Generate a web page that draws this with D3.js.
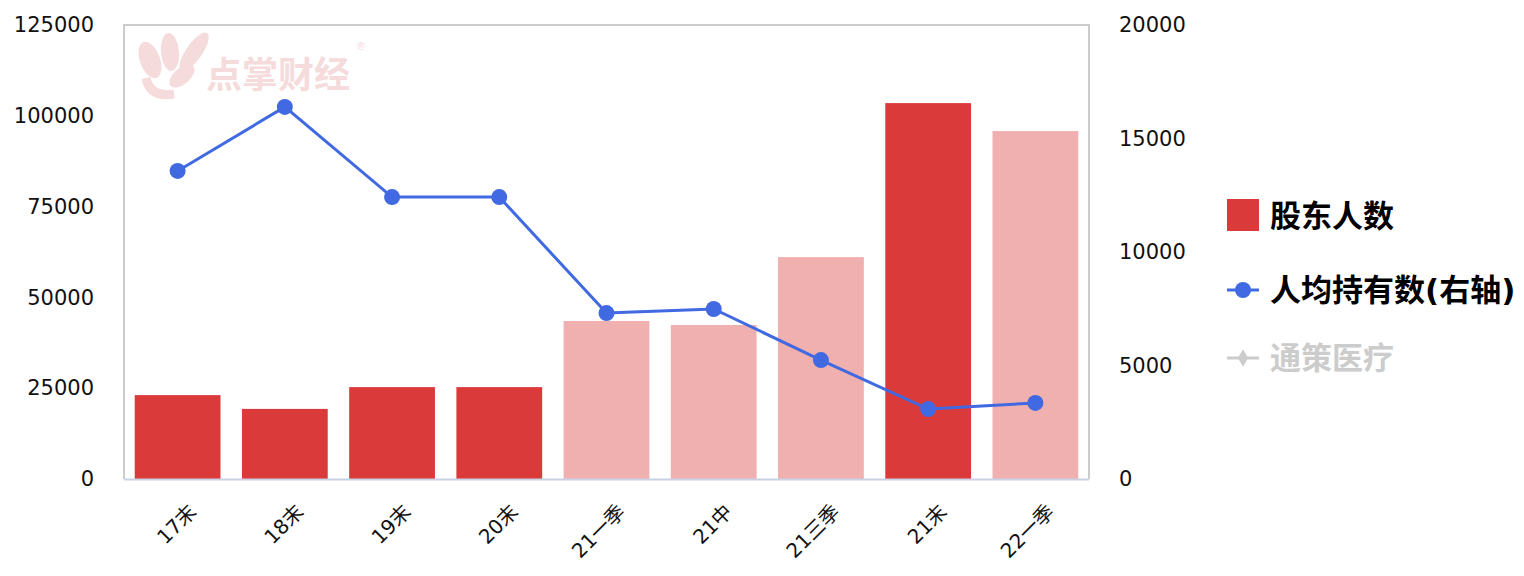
<!DOCTYPE html>
<html>
<head>
<meta charset="utf-8">
<script src="https://cdn.jsdelivr.net/npm/d3@7"></script>
<style>
  body { margin: 0; background: #fff; }
  svg text { font-family: "DejaVu Sans", "Noto Sans CJK SC", sans-serif; }
</style>
</head>
<body>
<div id="viz-wrapper"></div>
<script>
var width = 1524;
var height = 576;

// data
var categories = ['17末', '18末', '19末', '20末', '21一季', '21中', '21三季', '21末', '22一季'];
var holders = [23100, 19300, 25300, 25300, 43500, 42400, 61100, 103500, 95800];
var perHolder = [13570, 16390, 12420, 12420, 7310, 7490, 5240, 3080, 3350];
// year-end bars are dark, quarter bars light
var barKind = ['dark', 'dark', 'dark', 'dark', 'light', 'light', 'light', 'dark', 'light'];
var leftTicks = [0, 25000, 50000, 75000, 100000, 125000];
var rightTicks = [0, 5000, 10000, 15000, 20000];
var legendItems = ['股东人数', '人均持有数(右轴)', '通策医疗'];

var plotLeft = 124, plotRight = 1089, plotTop = 25, plotBottom = 479;

var viz = d3.select('#viz-wrapper').append('svg').attr('width', width).attr('height', height);

var x = d3.scaleBand().domain(categories).range([plotLeft, plotRight]).paddingInner(0.2).paddingOuter(0.1);
var yL = d3.scaleLinear().domain([0, 125000]).range([plotBottom, plotTop]);
var yR = d3.scaleLinear().domain([0, 20000]).range([plotBottom, plotTop]);

// watermark
var wm = viz.append('g').attr('opacity', 0.6);
wm.append('ellipse').attr('cx', 150).attr('cy', 60).attr('rx', 10).attr('ry', 19).attr('fill', '#f0c4c4').attr('transform', 'rotate(-20,150,60)');
wm.append('ellipse').attr('cx', 170).attr('cy', 52).attr('rx', 9).attr('ry', 19).attr('fill', '#f0c4c4').attr('transform', 'rotate(-5,170,52)');
wm.append('ellipse').attr('cx', 194).attr('cy', 52).attr('rx', 8).attr('ry', 23).attr('fill', '#f0c4c4').attr('transform', 'rotate(35,194,52)');
wm.append('ellipse').attr('cx', 182).attr('cy', 76).attr('rx', 8).attr('ry', 15).attr('fill', '#f0c4c4').attr('transform', 'rotate(50,182,76)');
wm.append('path').attr('d', 'M146,78 Q150,98 174,94').attr('fill', 'none').attr('stroke', '#f0c4c4').attr('stroke-width', 9);
wm.append('text').attr('x', 206).attr('y', 88).attr('font-family', 'Noto Sans CJK SC').attr('font-size', 36).attr('font-weight', 'bold').attr('fill', '#f0c4c4').text('点掌财经');
wm.append('text').attr('x', 356).attr('y', 50).attr('font-size', 10).attr('fill', '#f0c4c4').text('®');

// frame
viz.append('path')
  .attr('d', 'M' + plotLeft + ',' + plotBottom + 'V' + plotTop + 'H' + plotRight + 'V' + plotBottom)
  .attr('fill', 'none').attr('stroke', '#cccccc').attr('stroke-width', 2);

// bars
viz.selectAll('rect.bar').data(holders).enter().append('rect')
  .attr('class', 'bar')
  .attr('x', function(d, i) { return x(categories[i]); })
  .attr('width', x.bandwidth())
  .attr('y', function(d) { return yL(d); })
  .attr('height', function(d) { return plotBottom - yL(d); })
  .attr('fill', function(d, i) { return barKind[i] == 'dark' ? '#db3a3a' : '#f0b0b0'; });

// bottom axis line
viz.append('line').attr('x1', plotLeft).attr('x2', plotRight).attr('y1', plotBottom + 0.5).attr('y2', plotBottom + 0.5)
  .attr('stroke', '#c8d2e4').attr('stroke-width', 2);

// left axis
var axL = viz.append('g').attr('transform', 'translate(' + (plotLeft - 30) + ',0)')
  .call(d3.axisLeft(yL).tickValues(leftTicks).tickFormat(d3.format('d')).tickSize(0).tickPadding(0));
axL.select('.domain').remove();
axL.selectAll('text').attr('font-size', 21).attr('fill', '#111').attr('font-family', 'DejaVu Sans');

// right axis
var axR = viz.append('g').attr('transform', 'translate(' + (plotRight + 30) + ',0)')
  .call(d3.axisRight(yR).tickValues(rightTicks).tickFormat(d3.format('d')).tickSize(0).tickPadding(0));
axR.select('.domain').remove();
axR.selectAll('text').attr('font-size', 21).attr('fill', '#111').attr('font-family', 'DejaVu Sans');

// category labels
viz.selectAll('text.cat').data(categories).enter().append('text')
  .attr('class', 'cat')
  .attr('font-size', 20).attr('fill', '#111')
  .attr('text-anchor', 'end')
  .attr('transform', function(d) { return 'translate(' + (x(d) + x.bandwidth() / 2 + 20) + ',' + (plotBottom + 34) + ') rotate(-45)'; })
  .text(function(d) { return d; });

// line
var line = d3.line()
  .x(function(d, i) { return x(categories[i]) + x.bandwidth() / 2; })
  .y(function(d) { return yR(d); });
viz.append('path').datum(perHolder).attr('d', line)
  .attr('fill', 'none').attr('stroke', '#4169e1').attr('stroke-width', 3);
viz.selectAll('circle.pt').data(perHolder).enter().append('circle')
  .attr('class', 'pt')
  .attr('cx', function(d, i) { return x(categories[i]) + x.bandwidth() / 2; })
  .attr('cy', function(d) { return yR(d); })
  .attr('r', 8).attr('fill', '#4169e1');

// legend
var lg = viz.append('g').attr('transform', 'translate(1227,0)');
lg.append('rect').attr('x', 0).attr('y', 199).attr('width', 32).attr('height', 32).attr('fill', '#db3a3a');
lg.append('text').attr('x', 43).attr('y', 227).attr('font-family', 'Noto Sans CJK SC').attr('font-size', 31).attr('font-weight', 'bold').attr('fill', '#000').text(legendItems[0]);

lg.append('line').attr('x1', 0).attr('x2', 32).attr('y1', 290).attr('y2', 290).attr('stroke', '#4169e1').attr('stroke-width', 3);
lg.append('circle').attr('cx', 16).attr('cy', 290).attr('r', 8).attr('fill', '#4169e1');
lg.append('text').attr('x', 43).attr('y', 301).attr('font-family', 'Noto Sans CJK SC').attr('font-size', 31).attr('font-weight', 'bold').attr('fill', '#000').text(legendItems[1]);

lg.append('line').attr('x1', 0).attr('x2', 32).attr('y1', 358).attr('y2', 358).attr('stroke', '#cccccc').attr('stroke-width', 3);
lg.append('path').attr('d', d3.symbol(d3.symbolDiamond, 90)()).attr('transform', 'translate(16,358)').attr('fill', '#cccccc');
lg.append('text').attr('x', 43).attr('y', 369).attr('font-family', 'Noto Sans CJK SC').attr('font-size', 31).attr('font-weight', 'bold').attr('fill', '#cccccc').text(legendItems[2]);
</script>
</body>
</html>
